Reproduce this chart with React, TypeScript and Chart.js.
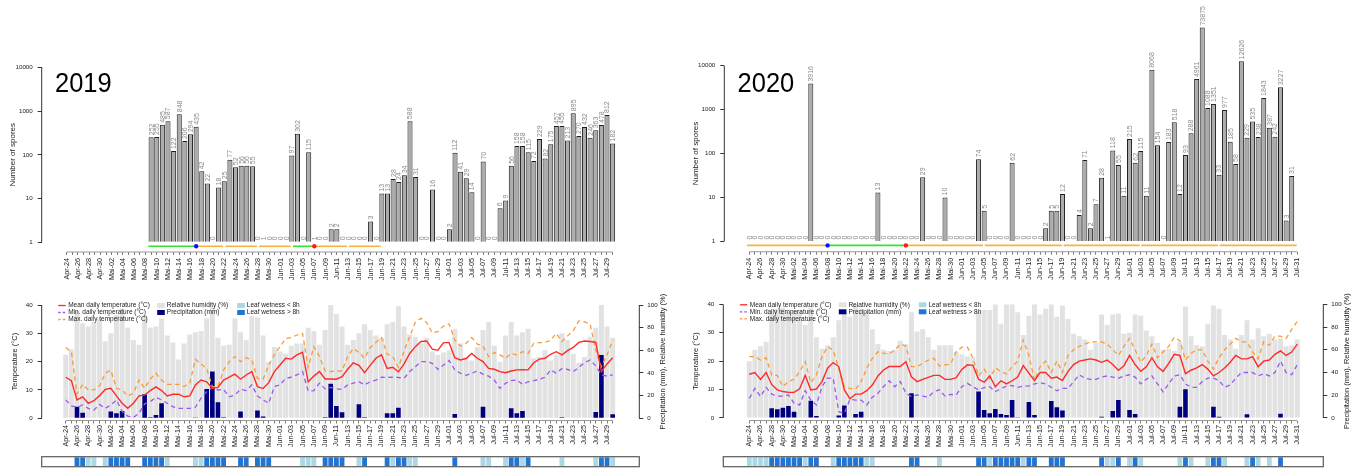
import React, { useEffect, useRef } from 'react';
import { Chart, registerables } from 'chart.js';

Chart.register(...registerables);

const FONT = '"Liberation Sans", Arial, Helvetica, sans-serif';

// ---------- categories ----------
const DATES = [
  'Apr-24','Apr-25','Apr-26','Apr-27','Apr-28','Apr-29','Apr-30',
  'Mai-01','Mai-02','Mai-03','Mai-04','Mai-05','Mai-06','Mai-07','Mai-08','Mai-09','Mai-10',
  'Mai-11','Mai-12','Mai-13','Mai-14','Mai-15','Mai-16','Mai-17','Mai-18','Mai-19','Mai-20',
  'Mai-21','Mai-22','Mai-23','Mai-24','Mai-25','Mai-26','Mai-27','Mai-28','Mai-29','Mai-30','Mai-31',
  'Jun-01','Jun-02','Jun-03','Jun-04','Jun-05','Jun-06','Jun-07','Jun-08','Jun-09','Jun-10',
  'Jun-11','Jun-12','Jun-13','Jun-14','Jun-15','Jun-16','Jun-17','Jun-18','Jun-19','Jun-20',
  'Jun-21','Jun-22','Jun-23','Jun-24','Jun-25','Jun-26','Jun-27','Jun-28','Jun-29','Jun-30',
  'Jul-01','Jul-02','Jul-03','Jul-04','Jul-05','Jul-06','Jul-07','Jul-08','Jul-09','Jul-10',
  'Jul-11','Jul-12','Jul-13','Jul-14','Jul-15','Jul-16','Jul-17','Jul-18','Jul-19','Jul-20',
  'Jul-21','Jul-22','Jul-23','Jul-24','Jul-25','Jul-26','Jul-27','Jul-28','Jul-29','Jul-30','Jul-31',
];

const Y_TICKS_SPORES = [1, 10, 100, 1000, 10000];
const Y_TICKS_TEMP = [0, 10, 20, 30, 40];
const Y_TICKS_RIGHT = [0, 20, 40, 60, 80, 100];

// ---------- 2019 ----------
const SPORES_2019 = [
  null, null, null, null, null, null, null, null, null, null,
  null, null, null, null, null, 252, 255, 485, 587, 122,
  848, 206, 294, 435, 42, 22, 0, 18, 25, 77,
  52, 56, 56, 55, 0, 1, 0, 0, 0, 0,
  97, 302, 0, 115, 1, 0, 0, 2, 2, 0,
  0, 0, 0, 0, 3, 0, 13, 13, 28, 24,
  34, 588, 31, 0, 0, 16, 0, 0, 2, 112,
  41, 29, 14, 0, 70, 0, 0, 6, 9, 56,
  158, 158, 115, 72, 229, 82, 175, 457, 455, 213,
  895, 270, 432, 246, 363, 478, 812, 182,
];
const PERIOD_FROM_2019 = [14.5, 23.2, 28.2, 34.2, 40.2, 44.2, 50.2];
const PERIOD_TO_2019 = [23, 27.8, 33.8, 39.8, 43.8, 49.8, 55.8];
const PERIOD_KIND_2019 = ['green', 'orange', 'orange', 'orange', 'green', 'orange', 'orange'];
const DOT_DAY_2019 = [23, 44];
const DOT_KIND_2019 = ['blue', 'red'];

const HUM_2019 = [
  56, 61, 95, 84, 81, 85, 88, 68, 75, 91,
  97, 80, 69, 65, 91, 80, 81, 88, 73, 67,
  52, 66, 74, 76, 77, 88, 98, 71, 64, 65,
  88, 76, 69, 90, 89, 73, 50, 63, 59, 57,
  64, 66, 66, 80, 77, 65, 78, 100, 92, 81,
  65, 69, 75, 83, 78, 73, 71, 83, 85, 99,
  81, 74, 72, 66, 71, 59, 56, 58, 60, 79,
  66, 54, 51, 63, 78, 85, 64, 50, 73, 85,
  73, 76, 79, 53, 54, 60, 51, 56, 75, 69,
  57, 49, 54, 72, 80, 100, 81, 71,
];
const MEAN_2019 = [
  14.5, 13.3, 6.5, 7.6, 5.3, 6.2, 8.0, 10.2, 10.6, 7.9,
  5.3, 3.5, 5.3, 7.9, 8.2, 9.8, 11.1, 9.8, 7.9, 8.5,
  8.5, 7.6, 7.9, 11.8, 13.5, 12.9, 10.6, 10.9, 13.5, 14.5,
  15.6, 13.8, 15.3, 16.5, 11.2, 10.5, 12.6, 16.5, 18.8, 21.2,
  20.9, 22.4, 23.3, 12.9, 14.9, 16.5, 13.9, 13.9, 13.8, 14.7,
  17.3, 19.6, 18.7, 16.1, 18.7, 21.2, 22.4, 17.6, 18.0, 16.4,
  19.2, 22.9, 25.3, 27.1, 27.3, 24.4, 24.0, 26.7, 26.7, 21.4,
  20.6, 21.1, 22.9, 21.2, 20.0, 17.6, 17.3, 16.5, 16.1, 16.7,
  17.1, 17.2, 17.1, 19.6, 20.9, 21.2, 22.6, 23.5, 22.4, 23.9,
  25.0, 26.8, 27.3, 27.1, 26.8, 16.5, 19.2, 21.4,
];
const MAX_2019 = [
  25, 23.5, 8.6, 12, 10, 10, 11.5, 15.9, 17, 10.6,
  10, 7.9, 8.8, 13.5, 10.6, 13.9, 15.9, 13.5, 12, 12,
  12, 11.2, 12.4, 20.8, 19.2, 17.6, 11.2, 11.2, 17, 20,
  21.8, 20, 21.4, 20.6, 14.1, 13.8, 18.8, 22.4, 25.3, 28.2,
  28.5, 29.4, 30, 18, 25.3, 21.8, 16.7, 16.5, 16.7, 16.7,
  21.8, 24.7, 23.2, 21.2, 24.9, 26.8, 28.5, 22.7, 21.8, 18,
  23.8, 28.8, 33.9, 35.3, 33.8, 30.2, 30.6, 32.6, 33.3, 27.6,
  25.5, 26.5, 28.5, 26.2, 25.5, 21.8, 23.2, 22.4, 21.2, 22.9,
  22.4, 23.5, 22.9, 26.5, 26.7, 26.8, 27.6, 30, 27.1, 29.1,
  30.9, 34.4, 34.1, 33.2, 24.1, 18.2, 22.4, 27.6,
];
const MIN_2019 = [
  6.5, 4.4, 3.9, 4.7, 3.5, 2.9, 4.9, 3.5, 4.7, 6.5,
  2.4, 0.8, 0.3, 1.8, 5.1, 5.9, 7.4, 6.5, 5.3, 4.1,
  3.5, 3.5, 3.5, 3.9, 7.1, 9.4, 10.9, 10, 10.2, 7.6,
  8.2, 10.2, 9.8, 11.8, 7.9, 6.5, 5.3, 11.2, 11.8, 14.1,
  14.5, 15.3, 16.5, 9.6, 9.8, 12.4, 10.4, 10.9, 10.4, 10.2,
  11.8, 12.4, 12.9, 11.8, 12.9, 13.5, 14.5, 14.4, 14.5, 14.4,
  14.1, 16.5, 18.2, 20, 20, 19.4, 17.3, 18.8, 20.4, 17.1,
  15.9, 15.2, 15.9, 16.7, 15.6, 14.9, 13.5, 10.6, 12.4, 13.3,
  13.5, 12, 12.9, 13.3, 13.8, 14.5, 17.1, 15.9, 17.6, 17.3,
  16.5, 18, 19.6, 20.6, 18.5, 15.3, 14.9, 15.3,
];
const PRECIP_2019 = [
  0, 0, 10.3, 5, 0.5, 0.5, 0, 0, 5.9, 4.4,
  6.5, 0, 0, 0, 21.2, 0.9, 2.9, 13.2, 0, 0,
  0, 0, 0, 0.3, 0, 25.9, 41.2, 14.1, 0.9, 0,
  0, 5.9, 0, 0, 6.8, 1.5, 0, 0, 0, 0,
  0, 0, 0, 0, 0, 0, 0.9, 30.6, 10.9, 5.3,
  0, 0, 12.4, 0.9, 0, 0, 0, 4.4, 4.4, 9.4,
  0, 0, 0, 0, 0, 0, 0, 0, 0, 3.8,
  0, 0, 0, 0, 10.3, 0, 0, 0, 0, 8.8,
  4.4, 6.5, 0, 0, 0, 0, 0, 0, 1, 0,
  0, 0, 0, 0, 5.6, 55.9, 0, 3.5,
];
// 0 = none, 1 = leaf wetness < 8h, 2 = leaf wetness > 8h
const WET_2019 = [
  0, 0, 2, 2, 1, 1, 0, 1, 2, 2,
  2, 2, 0, 0, 2, 2, 2, 2, 1, 0,
  0, 0, 0, 1, 1, 2, 2, 2, 2, 0,
  0, 2, 2, 0, 2, 2, 2, 0, 0, 0,
  0, 0, 1, 1, 1, 0, 2, 2, 2, 2,
  0, 0, 1, 2, 0, 0, 0, 2, 1, 2,
  2, 1, 1, 0, 0, 0, 0, 0, 0, 2,
  0, 0, 0, 0, 1, 1, 0, 0, 1, 2,
  2, 1, 2, 0, 0, 0, 0, 0, 1, 0,
  0, 0, 0, 0, 1, 2, 2, 1,
];

// ---------- 2020 ----------
const SPORES_2020 = [
  0, 0, 0, 0, 0, 0, 0, 0, 0, 0,
  0, 3916, 0, 0, 0, 0, 0, 0, 0, 0,
  0, 0, 0, 13, 0, 0, 0, 0, 0, 0,
  0, 29, 0, 0, 0, 10, 0, 0, 0, 0,
  0, 74, 5, 0, 0, 0, 0, 62, 0, 0,
  0, 0, 0, 2, 5, 5, 12, 0, 0, 4,
  71, 2, 7, 28, 1, 118, 55, 11, 215, 62,
  115, 11, 8068, 154, 0, 183, 518, 12, 93, 288,
  4961, 73875, 1088, 1351, 33, 977, 185, 58, 12626, 229,
  535, 238, 1843, 387, 242, 3227, 3, 31, null,
];
const PERIOD_FROM_2020 = [-0.4, 14, 28, 42.1, 56.2, 70.1, 84.1];
const PERIOD_TO_2020 = [14, 28, 41.8, 55.9, 69.8, 83.8, 97.9];
const PERIOD_KIND_2020 = ['orange', 'green', 'orange', 'orange', 'orange', 'orange', 'orange'];
const DOT_DAY_2020 = [14, 28];
const DOT_KIND_2020 = ['blue', 'red'];

const HUM_2020 = [
  50, 60, 63, 67, 92, 96, 97, 93, 95, 95,
  82, 97, 71, 61, 64, 71, 86, 95, 89, 100,
  96, 93, 78, 65, 60, 59, 60, 68, 65, 93,
  76, 78, 71, 60, 64, 64, 64, 58, 56, 54,
  53, 94, 95, 95, 100, 83, 100, 100, 93, 73,
  90, 100, 91, 96, 100, 89, 99, 87, 74, 72,
  69, 60, 66, 91, 82, 91, 92, 74, 75, 91,
  90, 77, 72, 66, 60, 61, 59, 67, 98, 72,
  64, 63, 83, 99, 96, 73, 69, 61, 73, 86,
  69, 79, 72, 74, 69, 70, 63, 64, 69,
];
const MEAN_2020 = [
  15.4, 16, 13.6, 16, 11.8, 9.9, 9.3, 9, 9, 10.3,
  15, 9.9, 10.2, 12.8, 17.5, 19.5, 18.1, 9.9, 6.8, 8.4,
  8.4, 9.6, 11.6, 14.8, 16.9, 18.1, 18.1, 18.1, 19.8, 14.5,
  12.8, 13.6, 14.3, 15, 15, 13.6, 13.6, 14.2, 17.1, 18.7,
  18.5, 13.6, 12.6, 14.8, 11, 13.1, 12, 13.1, 14.4, 18.4,
  15.8, 13.2, 16, 16, 14, 14.4, 13.2, 16.4, 18.8, 20,
  20.4, 20.8, 20.4, 19.6, 20.4, 18.8, 16.8, 18.4, 22, 18.8,
  16.4, 18, 21.2, 18, 16.4, 19.2, 22.4, 22, 15.6, 16.8,
  17.6, 18.8, 17.2, 14.8, 16, 17.6, 19.6, 22, 20.8, 20.8,
  21.6, 18, 20, 20.4, 22.4, 23.6, 22, 23.2, 26,
];
const MAX_2020 = [
  21.6, 21.6, 20.4, 21.2, 15.1, 15, 11, 12.8, 13.6, 16.3,
  19.8, 12.4, 15.1, 21.6, 25.1, 23.9, 17.5, 11, 10.4, 10.1,
  12.8, 17.5, 21, 23.3, 22.8, 22.5, 23.9, 26, 25.3, 18.1,
  18.1, 19.2, 20.4, 21, 18.3, 18.7, 19, 23.3, 24.9, 24.9,
  21, 14.8, 17.2, 14, 17.7, 16.3, 15.5, 18.1, 20, 27.4,
  22, 13.2, 18, 20, 16, 20, 16, 22, 24, 25.2,
  26, 26.8, 26.8, 26.8, 26, 24, 22, 25.2, 28, 24,
  19.6, 22, 26, 21.2, 23.2, 25.2, 28.4, 27.2, 20.4, 22.8,
  24, 24, 20, 17.2, 21.2, 24, 26, 28, 26.8, 26.8,
  23.2, 20.8, 26.8, 25.6, 28.8, 28.8, 28, 31.2, 34,
];
const MIN_2020 = [
  6.9, 10.4, 7.5, 10.8, 8.4, 7.7, 7.7, 8.1, 5.2, 4.6,
  9.6, 6.3, 4.6, 11, 14, 14, 2.2, 1.6, 6.6, 6.3,
  6.3, 4.6, 7.3, 8.7, 11, 13.1, 11, 12.8, 8.7, 7.5,
  8.1, 7.7, 7.3, 9.3, 9.9, 7.7, 8.3, 8.1, 11, 12.2,
  11, 9.9, 10.7, 11, 9.3, 10.2, 11.3, 11.4, 10.8, 11.2,
  11.3, 12, 12.4, 12, 10.8, 9.6, 10.4, 10.4, 12.8, 15.2,
  14, 13.6, 13.6, 14.4, 14.8, 14.4, 14, 14.8, 15.2, 14.4,
  12, 13.6, 14.8, 12, 9.2, 12, 14.8, 15.2, 12, 10.8,
  10.8, 12.8, 14, 14, 13.2, 10.8, 11.6, 14, 16, 16,
  16, 14.8, 15.6, 14.8, 16, 20, 16, 15.2, 18.8,
];
const PRECIP_2020 = [
  0, 0, 0, 0, 8.5, 7.6, 9.1, 10.6, 5.6, 0,
  0, 15.2, 1.8, 0, 0, 0, 2.3, 11.1, 0.5, 3.5,
  5.6, 0, 0, 0, 0, 0, 0, 0, 0, 21.7,
  0, 0, 0, 0, 0, 0, 0, 0, 0, 0,
  0, 23.2, 7, 4.1, 7.9, 3.5, 2.6, 15.8, 0.6, 0,
  14.1, 2.6, 0, 0, 15, 9.4, 6.5, 0, 0, 0,
  0, 0, 0, 1, 0.5, 6.2, 15.8, 0, 7, 3.5,
  0, 0, 0, 0, 0, 0, 0, 10, 25.2, 0,
  0, 0, 0.5, 10, 1.2, 0, 0, 0, 0, 3.2,
  0, 0.5, 0, 0, 0, 3.8, 0, 0, 0,
];
const WET_2020 = [
  1, 1, 1, 1, 2, 2, 2, 2, 2, 2,
  1, 2, 2, 0, 0, 1, 2, 2, 2, 2,
  2, 1, 1, 0, 0, 0, 0, 0, 0, 2,
  2, 0, 0, 0, 1, 0, 0, 0, 0, 0,
  0, 2, 2, 1, 2, 2, 2, 2, 2, 1,
  2, 2, 0, 0, 2, 2, 2, 0, 0, 0,
  0, 0, 0, 2, 1, 1, 2, 0, 1, 2,
  1, 0, 0, 0, 0, 0, 0, 1, 2, 1,
  0, 0, 1, 2, 2, 1, 0, 0, 0, 1,
  2, 1, 0, 1, 0, 2, 0, 0, 0,
];

// ---------- styles ----------
const C = {
  bar: '#ababab',
  barEdge: '#1e1e1e',
  barLabel: '#8a8a8a',
  humid: '#e2e2e2',
  navy: '#00007f',
  red: '#ff2a2a',
  purple: '#9b57f2',
  orange: '#f99b35',
  light: '#acd8e6',
  dark: '#1f74d4',
  green: '#38e038',
  periodOrange: '#f5b342',
  blue: '#1010ff',
  dotRed: '#ff1a1a',
  axis: '#333333',
  xAxis: '#9a9a9a',
  text: '#222222',
};
const PERIOD_COLOR: Record<string, string> = { green: C.green, orange: C.periodOrange };
const DOT_COLOR: Record<string, string> = { blue: C.blue, red: C.dotRed };

const TOP_H = 290;
const BOT_H = 180;
const CHART_TOP = 56;
const STRIP_Y = 166.7;
const STRIP_H = 10;

function vText(ctx: CanvasRenderingContext2D, text: string, x: number, y: number, size: number) {
  ctx.save();
  ctx.translate(x, y);
  ctx.rotate(-Math.PI / 2);
  ctx.font = `${size}px ${FONT}`;
  ctx.fillStyle = C.text;
  ctx.textAlign = 'center';
  ctx.textBaseline = 'middle';
  ctx.fillText(text, 0, 0);
  ctx.restore();
}

function xAxisOptions(n: number, xMin: number, xMax: number, height: number, padding: number) {
  const days = Array.from({ length: n }, (_, i) => i);
  return {
    type: 'linear',
    min: xMin,
    max: xMax,
    offset: false,
    afterBuildTicks: (s: any) => {
      s.ticks = days.map((d) => ({ value: d }));
    },
    afterFit: (s: any) => {
      s.height = height;
    },
    ticks: {
      autoSkip: false,
      minRotation: 90,
      maxRotation: 90,
      padding,
      color: C.text,
      font: { family: FONT, size: 7.2 },
      callback: (v: any) => {
        const i = Math.round(Number(v));
        return i % 2 === 0 ? DATES[i] : '';
      },
    },
    grid: {
      display: true,
      offset: false,
      drawOnChartArea: false,
      drawTicks: true,
      tickLength: 3,
      color: '#444',
      lineWidth: 0.7,
    },
    border: { display: false },
  };
}

function topConfig(p: any) {
  const n = p.spores.length;
  const plugin = {
    id: 'topDecor',
    afterDatasetsDraw(chart: any) {
      const { ctx } = chart;
      const xs = chart.scales.x;
      const ys = chart.scales.y;
      ctx.save();
      ctx.font = `7px ${FONT}`;
      ctx.fillStyle = C.barLabel;
      ctx.textAlign = 'left';
      ctx.textBaseline = 'middle';
      p.spores.forEach((v: number | null, i: number) => {
        if (v === null) return;
        const px = xs.getPixelForValue(i);
        const py = (v > 0 ? ys.getPixelForValue(v) : ys.getPixelForValue(1)) - 2;
        ctx.save();
        ctx.translate(px, py);
        ctx.rotate(-Math.PI / 2);
        ctx.fillText(String(v), 0, 0.5);
        ctx.restore();
      });
      // infection periods
      const yLine = ys.getPixelForValue(1) + 4;
      ctx.lineWidth = 1.6;
      p.from.forEach((f: number, k: number) => {
        ctx.strokeStyle = PERIOD_COLOR[p.kind[k]];
        ctx.beginPath();
        ctx.moveTo(xs.getPixelForValue(f), yLine);
        ctx.lineTo(xs.getPixelForValue(p.to[k]), yLine);
        ctx.stroke();
      });
      p.dotDay.forEach((d: number, k: number) => {
        ctx.fillStyle = DOT_COLOR[p.dotKind[k]];
        ctx.beginPath();
        ctx.arc(xs.getPixelForValue(d), yLine, 2.2, 0, Math.PI * 2);
        ctx.fill();
      });
      ctx.restore();
    },
    afterDraw(chart: any) {
      const { ctx, chartArea: ca } = chart;
      const xs = chart.scales.x;
      const ys = chart.scales.y;
      ctx.save();
      ctx.lineWidth = 1;
      ctx.strokeStyle = C.axis;
      ctx.beginPath();
      ctx.moveTo(ca.left, ys.getPixelForValue(1));
      ctx.lineTo(ca.left, ys.getPixelForValue(10000));
      ctx.stroke();
      ctx.strokeStyle = C.xAxis;
      ctx.beginPath();
      ctx.moveTo(xs.getPixelForValue(0), ca.bottom);
      ctx.lineTo(xs.getPixelForValue(n - 1), ca.bottom);
      ctx.stroke();
      // year
      ctx.save();
      ctx.translate(ca.left + 13.3, 91.5);
      ctx.scale(0.91, 1);
      ctx.font = `28px ${FONT}`;
      ctx.fillStyle = '#000';
      ctx.textAlign = 'left';
      ctx.textBaseline = 'alphabetic';
      ctx.fillText(p.year, 0, 0);
      ctx.restore();
      vText(ctx, 'Number of spores', ca.left - 28.7, (ys.getPixelForValue(1) + ys.getPixelForValue(10000)) / 2, 8);
      ctx.restore();
    },
  };
  return {
    type: 'bar',
    data: {
      datasets: [
        {
          data: p.spores.map((v: number | null, i: number) => ({ x: i, y: v !== null && v > 0 ? v : null })),
          backgroundColor: C.bar,
          borderColor: C.barEdge,
          borderWidth: 1,
          barPercentage: 0.9,
          categoryPercentage: 1,
          base: 1,
          clip: false,
        },
      ],
    },
    options: {
      animation: false,
      responsive: false,
      devicePixelRatio: 1,
      layout: { padding: { left: 0, right: p.width - p.right, top: CHART_TOP, bottom: 0 } },
      plugins: { legend: { display: false }, tooltip: { enabled: false } },
      scales: {
        x: xAxisOptions(n, p.xMin, p.xMax, TOP_H - p.bottom, 3),
        y: {
          type: 'logarithmic',
          min: p.yMin,
          max: p.yMax,
          beginAtZero: false,
          afterBuildTicks: (s: any) => {
            s.ticks = Y_TICKS_SPORES.map((v) => ({ value: v }));
          },
          afterFit: (s: any) => {
            s.width = p.left;
          },
          ticks: {
            padding: 5,
            color: C.text,
            font: { family: FONT, size: 6.2 },
            callback: (v: any) => String(v),
          },
          grid: { drawOnChartArea: false, drawTicks: true, tickLength: 4, color: C.axis, lineWidth: 1 },
          border: { display: false },
        },
      },
    },
    plugins: [plugin],
  };
}

function bottomConfig(p: any) {
  const n = p.mean.length;
  const pts = (arr: number[]) => arr.map((v, i) => ({ x: i, y: v }));
  const plugin = {
    id: 'bottomDecor',
    afterDraw(chart: any) {
      const { ctx, chartArea: ca } = chart;
      const xs = chart.scales.x;
      const ys = chart.scales.y;
      const y2 = chart.scales.y2;
      ctx.save();
      ctx.lineWidth = 1;
      ctx.strokeStyle = C.axis;
      ctx.beginPath();
      ctx.moveTo(ca.left, ys.getPixelForValue(0));
      ctx.lineTo(ca.left, ys.getPixelForValue(40));
      ctx.moveTo(ca.right, y2.getPixelForValue(0));
      ctx.lineTo(ca.right, y2.getPixelForValue(100));
      ctx.stroke();
      ctx.strokeStyle = C.xAxis;
      ctx.beginPath();
      ctx.moveTo(xs.getPixelForValue(0), ca.bottom);
      ctx.lineTo(xs.getPixelForValue(n - 1), ca.bottom);
      ctx.stroke();
      const mid = (ys.getPixelForValue(0) + ys.getPixelForValue(40)) / 2;
      vText(ctx, 'Temperature (°C)', ca.left - 27, mid, 7.5);
      vText(ctx, 'Precipitation (mm), Relative humidity (%)', ca.right + 24, mid, 7.5);

      // legend
      const L = ca.left;
      const T = ca.top;
      const rows = [T + 0.5, T + 7.5, T + 14.5];
      ctx.font = `6.5px ${FONT}`;
      ctx.textAlign = 'left';
      ctx.textBaseline = 'middle';
      const lineItems = [
        ['Mean daily temperature (°C)', C.red, []],
        ['Min. daily temperature (°C)', C.purple, [2.5, 2]],
        ['Max. daily temperature (°C)', C.orange, [2.5, 2]],
      ];
      lineItems.forEach((it: any, k) => {
        ctx.strokeStyle = it[1];
        ctx.lineWidth = 1.3;
        ctx.setLineDash(it[2]);
        ctx.beginPath();
        ctx.moveTo(L + 16.5, rows[k]);
        ctx.lineTo(L + 24, rows[k]);
        ctx.stroke();
        ctx.setLineDash([]);
        ctx.fillStyle = C.text;
        ctx.fillText(it[0], L + 26.5, rows[k]);
      });
      const boxItems = [
        ['Relative humidity (%)', C.humid, 115.5, 0],
        ['Precipitation (mm)', C.navy, 115.5, 1],
        ['Leaf wetness < 8h', C.light, 195.5, 0],
        ['Leaf wetness > 8h', C.dark, 195.5, 1],
      ];
      boxItems.forEach((it: any) => {
        const yy = rows[it[3]];
        ctx.fillStyle = it[1];
        ctx.fillRect(L + it[2], yy - 2.5, 7.6, 5);
        ctx.fillStyle = C.text;
        ctx.fillText(it[0], L + it[2] + 9.6, yy);
      });

      // leaf wetness strip
      ctx.fillStyle = '#fff';
      ctx.fillRect(ca.left, STRIP_Y, ca.right - ca.left, STRIP_H);
      p.wet.forEach((w: number, i: number) => {
        if (!w) return;
        const x0 = xs.getPixelForValue(i - 0.5) + 0.4;
        const x1 = xs.getPixelForValue(i + 0.5) - 0.4;
        ctx.fillStyle = w === 2 ? C.dark : C.light;
        ctx.fillRect(x0, STRIP_Y + 0.6, x1 - x0, STRIP_H - 1.2);
      });
      ctx.strokeStyle = '#5a5a5a';
      ctx.lineWidth = 1.2;
      ctx.strokeRect(ca.left, STRIP_Y, ca.right - ca.left, STRIP_H);
      ctx.restore();
    },
  };
  return {
    type: 'bar',
    data: {
      datasets: [
        { type: 'line', data: pts(p.mean), yAxisID: 'y', borderColor: C.red, borderWidth: 1.4, pointRadius: 0, order: 0 },
        { type: 'line', data: pts(p.min), yAxisID: 'y', borderColor: C.purple, borderWidth: 1.3, borderDash: [4.5, 3.5], pointRadius: 0, order: 0 },
        { type: 'line', data: pts(p.max), yAxisID: 'y', borderColor: C.orange, borderWidth: 1.3, borderDash: [4.5, 3.5], pointRadius: 0, order: 0 },
        { type: 'bar', data: pts(p.precip), yAxisID: 'y2', backgroundColor: C.navy, grouped: false, barPercentage: 0.82, categoryPercentage: 1, order: 1 },
        { type: 'bar', data: pts(p.hum), yAxisID: 'y2', backgroundColor: C.humid, grouped: false, barPercentage: 0.88, categoryPercentage: 1, order: 2 },
      ],
    },
    options: {
      animation: false,
      responsive: false,
      devicePixelRatio: 1,
      layout: { padding: { left: 0, right: 0, top: p.top, bottom: 0 } },
      plugins: { legend: { display: false }, tooltip: { enabled: false } },
      scales: {
        x: xAxisOptions(n, p.xMin, p.xMax, BOT_H - 130.5, 1.5),
        y: {
          type: 'linear',
          position: 'left',
          min: p.yMin,
          max: 40,
          afterBuildTicks: (s: any) => {
            s.ticks = Y_TICKS_TEMP.map((v) => ({ value: v }));
          },
          afterFit: (s: any) => {
            s.width = p.left;
          },
          ticks: { padding: 5, color: C.text, font: { family: FONT, size: 6.2 }, callback: (v: any) => String(v) },
          grid: { drawOnChartArea: false, drawTicks: true, tickLength: 4, color: C.axis },
          border: { display: false },
        },
        y2: {
          type: 'linear',
          position: 'right',
          min: p.yMin * 2.5,
          max: 100,
          afterBuildTicks: (s: any) => {
            s.ticks = Y_TICKS_RIGHT.map((v) => ({ value: v }));
          },
          afterFit: (s: any) => {
            s.width = p.width - p.right;
          },
          ticks: { padding: 4, color: C.text, font: { family: FONT, size: 6.2 }, callback: (v: any) => String(v) },
          grid: { drawOnChartArea: false, drawTicks: true, tickLength: 4, color: C.axis },
          border: { display: false },
        },
      },
    },
    plugins: [plugin],
  };
}

function ChartBox(props: { left: number; top: number; width: number; height: number; make: () => any }) {
  const ref = useRef<HTMLCanvasElement>(null);
  useEffect(() => {
    const chart = new Chart(ref.current as HTMLCanvasElement, props.make());
    return () => chart.destroy();
  }, []);
  return (
    <canvas
      ref={ref}
      width={props.width}
      height={props.height}
      style={{ position: 'absolute', left: props.left, top: props.top, width: props.width, height: props.height, display: 'block' }}
    />
  );
}

export default function App() {
  const top2019 = {
    year: '2019', spores: SPORES_2019, from: PERIOD_FROM_2019, to: PERIOD_TO_2019, kind: PERIOD_KIND_2019,
    dotDay: DOT_DAY_2019, dotKind: DOT_KIND_2019, width: 685, left: 41.7, right: 639.3,
    xMin: -4.44, xMax: 101.74, yMin: 0.6, yMax: 18130, bottom: 252,
  };
  const top2020 = {
    year: '2020', spores: SPORES_2020, from: PERIOD_FROM_2020, to: PERIOD_TO_2020, kind: PERIOD_KIND_2020,
    dotDay: DOT_DAY_2020, dotKind: DOT_KIND_2020, width: 686, left: 39.3, right: 638.3,
    xMin: -4.47, xMax: 102.65, yMin: 0.583, yMax: 16620, bottom: 251.7,
  };
  const bot2019 = {
    mean: MEAN_2019, min: MIN_2019, max: MAX_2019, precip: PRECIP_2019, hum: HUM_2019, wet: WET_2019,
    width: 685, left: 41.7, right: 639.3, top: 15, xMin: -4.26, xMax: 101.72, yMin: -0.777,
  };
  const bot2020 = {
    mean: MEAN_2020, min: MIN_2020, max: MAX_2020, precip: PRECIP_2020, hum: HUM_2020, wet: WET_2020,
    width: 686, left: 38.3, right: 638.3, top: 14.3, xMin: -4.65, xMax: 102.65, yMin: -0.88,
  };
  return (
    <div style={{ position: 'absolute', left: 0, top: 0, width: 1371, height: 470, background: '#fff', overflow: 'hidden' }}>
      <ChartBox left={0} top={0} width={685} height={TOP_H} make={() => topConfig(top2019)} />
      <ChartBox left={0} top={TOP_H} width={685} height={BOT_H} make={() => bottomConfig(bot2019)} />
      <ChartBox left={685} top={0} width={686} height={TOP_H} make={() => topConfig(top2020)} />
      <ChartBox left={685} top={TOP_H} width={686} height={BOT_H} make={() => bottomConfig(bot2020)} />
    </div>
  );
}
